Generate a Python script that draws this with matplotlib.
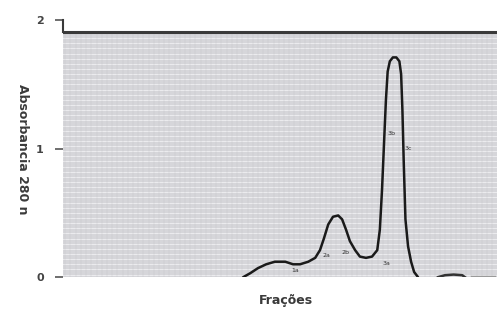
import matplotlib
matplotlib.use("Agg")
import matplotlib.pyplot as plt
import numpy as np

# Fraction index (arbitrary units along the x axis) and absorbance at 280 nm
fractions = [41.5, 43.1, 44.9, 46.8, 48.8, 51.2, 53.0, 54.6, 56.5, 58.1, 59.2,
             60.1, 61.1, 62.2, 63.4, 64.3, 65.2, 66.1, 67.3, 68.4, 69.8, 71.2,
             72.4, 73.0, 73.5, 74.0, 74.4, 74.8, 75.3, 76.0, 76.8, 77.5, 77.9,
             78.2, 78.5, 78.9, 79.5, 80.2, 80.9, 81.8]
absorbance = [0.00, 0.03, 0.07, 0.10, 0.12, 0.12, 0.10, 0.10, 0.12, 0.15, 0.21,
              0.30, 0.41, 0.47, 0.48, 0.45, 0.37, 0.28, 0.21, 0.16, 0.15, 0.16,
              0.21, 0.37, 0.68, 1.07, 1.38, 1.60, 1.68, 1.71, 1.71, 1.68, 1.58,
              1.30, 0.90, 0.45, 0.24, 0.12, 0.04, 0.00]

# small late bump near baseline
bump_x = [86.4, 88.0, 90.0, 92.0, 92.6]
bump_y = [0.0, 0.015, 0.02, 0.015, 0.0]

peak_labels = ["1a", "2a", "2b", "3a", "3b", "3c"]
label_x = [53.5, 60.8, 65.0, 74.5, 75.8, 79.6]
label_y = [0.05, 0.17, 0.19, 0.11, 1.12, 1.00]

y_ticks = [0, 1, 2]
top_line = 1.91

fig = plt.figure(figsize=(4.97, 3.10), dpi=100)
ax = fig.add_axes([0.127, 0.106, 0.873, 0.829])
ax.set_xlim(0, 100)
ax.set_ylim(0, 2)

# graph-paper background
ax.axhspan(0, top_line, xmin=0, xmax=1, color="#d6d6da", zorder=0, lw=0)
for yy in np.arange(0.02, top_line, 0.04):
    ax.axhline(yy, color="#f0f0f2", lw=0.6, zorder=0.5)
for xx in np.arange(0.5, 100, 1.2):
    ax.axvline(xx, ymax=top_line / 2, color="#c0c0c4", lw=0.35, alpha=0.6, zorder=0.6)

ax.axhline(top_line, color="#3a3a3a", lw=2.2, zorder=2)
ax.plot([0, 0], [top_line, 2], color="#3a3a3a", lw=1.5, clip_on=False, zorder=3)

ax.plot(fractions, absorbance, color="#1a1a1a", lw=1.8, zorder=3, solid_capstyle="round")
ax.plot(bump_x, bump_y, color="#333333", lw=1.8, zorder=3)
ax.plot([94, 99.5], [0.005, 0.005], color="#9a9a9a", lw=1.0, zorder=3)

for t, x, y in zip(peak_labels, label_x, label_y):
    ax.text(x, y, t, fontsize=4.5, color="#333333", ha="center", va="center", zorder=4)

for s in ax.spines.values():
    s.set_visible(False)
ax.set_xticks([])
ax.set_yticks(y_ticks)
ax.set_yticklabels([str(t) for t in y_ticks], fontsize=8, fontweight="bold", color="#444444")
ax.tick_params(axis="y", length=6, width=1.2, color="#555555", pad=8)

fig.text(0.045, 0.52, "Absorbancia 280 n", rotation=270, rotation_mode="anchor",
         ha="center", va="center", fontsize=9, fontweight="bold", color="#3a3a3a")
fig.text(0.575, 0.03, "Frações", ha="center", va="center", fontsize=9,
         fontweight="bold", color="#3a3a3a")

fig.savefig("out.png", dpi=100)
